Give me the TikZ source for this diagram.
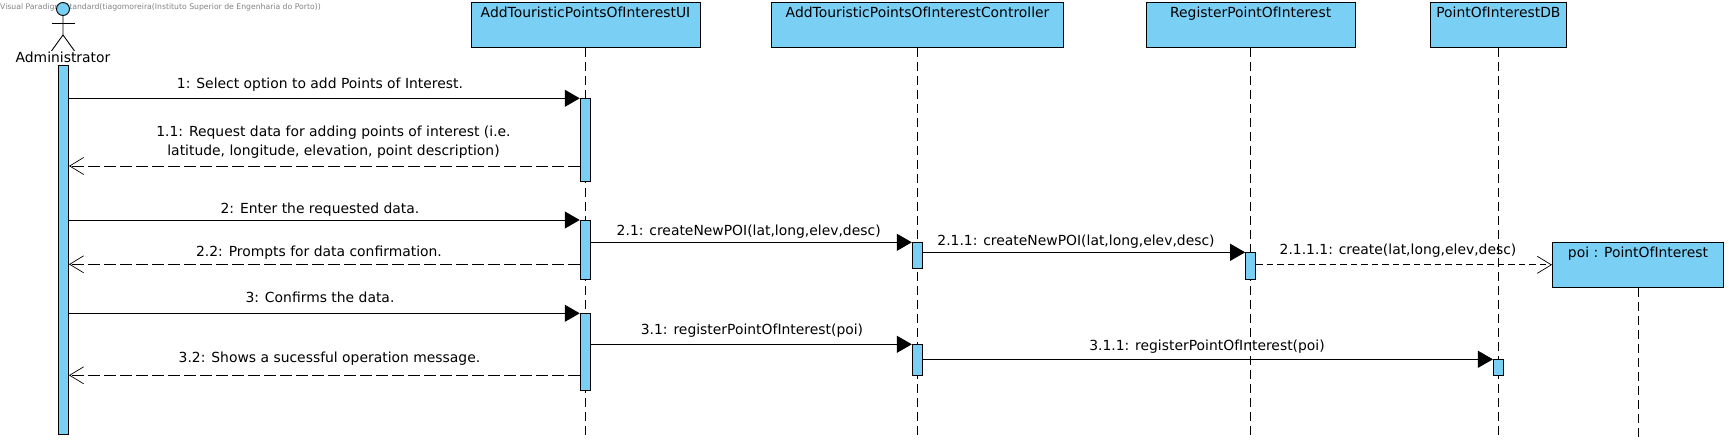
\documentclass[tikz,border=0pt]{standalone}
\usepackage{fontspec}
\setmainfont{DejaVu Sans}
\usetikzlibrary{arrows.meta,positioning}
\definecolor{lifeblue}{RGB}{122,207,245}
\definecolor{markgray}{RGB}{130,130,130}

\begin{document}
\begin{tikzpicture}[
  x=1pt, y=-1pt,
  font=\fontsize{13.9}{18.6}\selectfont,
  objbox/.style={draw, line width=1pt, fill=lifeblue, align=center, minimum height=45pt, inner xsep=0pt, inner ysep=3pt, text height=12.4pt, text depth=26.6pt},
  actbar/.style={draw, line width=1pt, fill=lifeblue, inner sep=0pt, anchor=north, minimum width=10.5pt},
  lifeln/.style={line width=0.9pt, dash pattern=on 9pt off 5pt},
  syncarr/.style={-{Triangle[length=15pt,width=17pt]}, line width=1pt},
  retarr/.style={-{Straight Barb[length=14pt,width=17pt,line width=0.7pt]}, line width=1pt, dash pattern=on 11.5pt off 4.5pt},
  lbl/.style={anchor=base, inner sep=0pt, align=center}
]
\useasboundingbox (0,0) rectangle (1729,441);

\node[anchor=west, inner sep=0pt, text=markgray, font=\fontsize{7.7}{8}\selectfont] (mark) at (0,7) {Visual Paradigm Standard(tiagomoreira(Instituto Superior de Engenharia do Porto))};

% actor
\node[draw, circle, line width=0.9pt, fill=lifeblue, inner sep=0pt, minimum size=13pt] (head) at (63,9) {};
\draw[line width=0.9pt] (head.south) -- ++(0,19) coordinate (hip) -- ++(-11.5,16);
\draw[line width=0.9pt] (hip) -- ++(11.5,16);
\draw[line width=0.9pt] (51.7,23.3) -- (74.6,23.3);
\node[inner sep=0pt] (admin) at (63,57.3) {Administrator};

% lifelines
\node[objbox, minimum width=229pt] (ui) at (585.5,24.8) {AddTouristicPointsOfInterestUI};
\node[objbox, minimum width=292.7pt, right=70.2pt of ui] (ctrl) {AddTouristicPointsOfInterestController};
\node[objbox, minimum width=209.3pt, right=81.1pt of ctrl] (reg) {RegisterPointOfInterest};
\node[objbox, minimum width=136.2pt, right=74pt of reg] (db) {PointOfInterestDB};
\node[objbox, minimum width=171pt] (poi) at (1638,264.8) {poi : PointOfInterest};

\foreach \n in {ui,ctrl,reg,db,poi}
  \draw[lifeln] (\n.south) -- (\n.south |- 0,437);

% activations
\node[actbar, minimum height=369pt, minimum width=10pt] (adm) at (63.5,65.3) {};
\node[actbar, minimum height=83pt] (ui1) at (ui.south |- 0,98.3) {};
\node[actbar, minimum height=59.3pt] (ui2) at (ui.south |- 0,220) {};
\node[actbar, minimum height=77pt] (ui3) at (ui.south |- 0,313.3) {};
\node[actbar, minimum height=26pt] (ctrl1) at (ctrl.south |- 0,242.3) {};
\node[actbar, minimum height=31pt] (ctrl2) at (ctrl.south |- 0,344.3) {};
\node[actbar, minimum height=27pt, minimum width=10pt] (reg1) at (reg.south |- 0,252.3) {};
\node[actbar, minimum height=16pt, minimum width=10pt] (db1) at (db.south |- 0,359.3) {};

% messages
\draw[syncarr] (adm.east |- ui1.north) -- (ui1.north west);
\node[lbl] (m1) at (320,88.3) {1: Select option to add Points of Interest.};
\draw[retarr] (ui1.west |- 0,166) -- (adm.east |- 0,166);
\node[lbl, anchor=south] (m11) at (333.5,158.5) {1.1: Request data for adding points of interest (i.e.\\latitude, longitude, elevation, point description)};
\draw[syncarr] (adm.east |- ui2.north) -- (ui2.north west);
\node[lbl] (m2) at (320,213.3) {2: Enter the requested data.};
\draw[retarr] (ui2.west |- 0,264.3) -- (adm.east |- 0,264.3);
\node[lbl] (m22) at (319,256.7) {2.2: Prompts for data confirmation.};
\draw[syncarr] (adm.east |- ui3.north) -- (ui3.north west);
\node[lbl] (m3) at (320,302.7) {3: Confirms the data.};
\draw[retarr] (ui3.west |- 0,375.3) -- (adm.east |- 0,375.3);
\node[lbl] (m32) at (329.5,362) {3.2: Shows a sucessful operation message.};
\draw[syncarr] (ui2.east |- ctrl1.north) -- (ctrl1.north west);
\node[lbl] (m21) at (748.7,235) {2.1: createNewPOI(lat,long,elev,desc)};
\draw[syncarr] (ctrl1.east |- reg1.north) -- (reg1.north west);
\node[lbl] (m211) at (1076,245) {2.1.1: createNewPOI(lat,long,elev,desc)};
\draw[retarr, dash pattern=on 6.5pt off 4pt] (reg1.east |- poi.west) -- (poi.west);
\node[lbl] (m2111) at (1398,254) {2.1.1.1: create(lat,long,elev,desc)};
\draw[syncarr] (ui3.east |- ctrl2.north) -- (ctrl2.north west);
\node[lbl] (m31) at (752,334) {3.1: registerPointOfInterest(poi)};
\draw[syncarr] (ctrl2.east |- db1.north) -- (db1.north west);
\node[lbl] (m311) at (1207,350) {3.1.1: registerPointOfInterest(poi)};
\end{tikzpicture}
\end{document}
